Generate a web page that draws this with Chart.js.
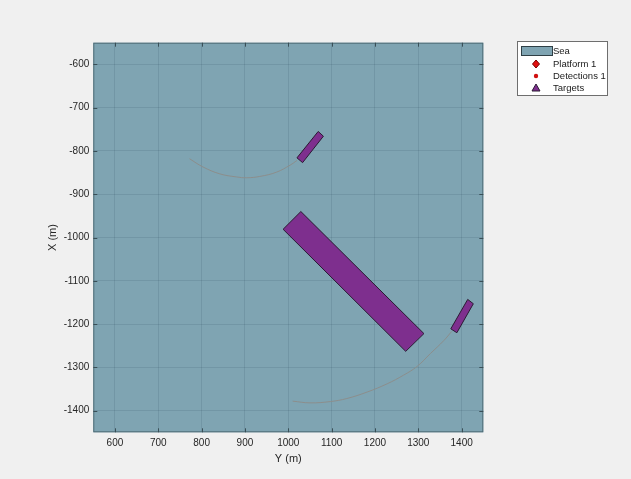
<!DOCTYPE html>
<html>
<head>
<meta charset="utf-8">
<script src="https://cdn.jsdelivr.net/npm/chart.js@4.4.1/dist/chart.umd.min.js"></script>
<style>
  html, body { margin: 0; padding: 0; background: #f0f0f0; }
  #wrap { width: 631px; height: 479px; }
</style>
</head>
<body>
<div id="wrap"><canvas id="theater"></canvas></div>
<script>
// horizontal axis is Y (m), vertical axis is X (m)
const yTicks = [600, 700, 800, 900, 1000, 1100, 1200, 1300, 1400];
const xTicks = [-1400, -1300, -1200, -1100, -1000, -900, -800, -700, -600];

const seaY = [550, 1450, 1450, 550];
const seaX = [-1450, -1450, -550, -550];

// target footprints (corners)
const target1Y = [1020, 1033, 1081, 1069, 1020];
const target1X = [-816, -827, -766, -755, -816];
const target2Y = [1029, 988, 1271, 1313, 1029];
const target2X = [-940, -981, -1263, -1222, -940];
const target3Y = [1375, 1389, 1427, 1414, 1375];
const target3X = [-1211, -1220, -1153, -1143, -1211];

// target tracks
const track1Y = [772, 803, 842, 880, 904, 934, 973, 1004, 1020];
const track1X = [-818, -837, -853, -860, -862, -859, -849, -833, -822];
const track2Y = [1010, 1050, 1097, 1135, 1182, 1228, 1266, 1297, 1328, 1359, 1377];
const track2X = [-1378, -1382, -1379, -1372, -1357, -1338, -1318, -1298, -1268, -1238, -1217];

const legendLabels = ['Sea', 'Platform 1', 'Detections 1', 'Targets'];

const seaColor = 'rgb(127,164,178)';
const targetColor = '#7e2f8e';
const gridColor = 'rgba(30,60,75,0.13)';
const font = 'Liberation Sans, Arial, sans-serif';

function pts(ys, xs) {
    return ys.map((v, i) => ({ x: v, y: xs[i] }));
}

function polygon(ys, xs) {
    return {
        label: 'Targets',
        data: pts(ys, xs),
        showLine: true,
        fill: 'shape',
        backgroundColor: targetColor,
        borderColor: '#2b1b33',
        borderWidth: 1,
        pointRadius: 0,
        tension: 0
    };
}

function track(ys, xs) {
    return {
        label: 'track',
        data: pts(ys, xs),
        showLine: true,
        fill: false,
        borderColor: 'rgb(140,142,140)',
        borderWidth: 1,
        pointRadius: 0,
        tension: 0.4
    };
}

const seaPlugin = {
    id: 'sea',
    beforeDraw(chart) {
        const { ctx, scales: { x, y } } = chart;
        ctx.save();
        ctx.fillStyle = seaColor;
        ctx.beginPath();
        seaY.forEach((v, i) => {
            const px = x.getPixelForValue(v), py = y.getPixelForValue(seaX[i]);
            if (i === 0) ctx.moveTo(px, py); else ctx.lineTo(px, py);
        });
        ctx.closePath();
        ctx.fill();
        ctx.restore();
    },
    afterDraw(chart) {
        const { ctx, chartArea: a, scales: { x, y } } = chart;
        ctx.save();
        ctx.strokeStyle = '#4d6b75';
        ctx.lineWidth = 1;
        ctx.strokeRect(a.left + 0.5, a.top + 0.5, a.right - a.left - 1, a.bottom - a.top - 1);
        // inward tick marks
        ctx.strokeStyle = '#3a4f57';
        ctx.beginPath();
        yTicks.forEach(v => {
            const px = Math.round(x.getPixelForValue(v)) + 0.5;
            ctx.moveTo(px, a.bottom); ctx.lineTo(px, a.bottom - 4);
            ctx.moveTo(px, a.top); ctx.lineTo(px, a.top + 4);
        });
        xTicks.forEach(v => {
            const py = Math.round(y.getPixelForValue(v)) + 0.5;
            ctx.moveTo(a.left, py); ctx.lineTo(a.left + 4, py);
            ctx.moveTo(a.right, py); ctx.lineTo(a.right - 4, py);
        });
        ctx.stroke();
        ctx.restore();
    }
};

const legendPlugin = {
    id: 'theaterLegend',
    afterDraw(chart) {
        const ctx = chart.ctx;
        const left = 517, top = 41, w = 90, h = 54;
        const rows = [51, 64, 76, 88];
        const mx = 536;
        ctx.save();
        ctx.fillStyle = '#ffffff';
        ctx.fillRect(left, top, w, h);
        ctx.strokeStyle = '#6e6e6e';
        ctx.lineWidth = 1;
        ctx.strokeRect(left + 0.5, top + 0.5, w, h);

        // Sea patch
        ctx.fillStyle = seaColor;
        ctx.fillRect(521, rows[0] - 4.5, 31, 9);
        ctx.strokeStyle = '#2f3f45';
        ctx.strokeRect(521.5, rows[0] - 4.5, 31, 9);

        // Platform diamond
        ctx.fillStyle = '#e01010';
        ctx.strokeStyle = '#7a0000';
        ctx.beginPath();
        ctx.moveTo(mx, rows[1] - 4);
        ctx.lineTo(mx + 3.5, rows[1]);
        ctx.lineTo(mx, rows[1] + 4);
        ctx.lineTo(mx - 3.5, rows[1]);
        ctx.closePath();
        ctx.fill();
        ctx.stroke();

        // Detection dot
        ctx.fillStyle = '#d01010';
        ctx.beginPath();
        ctx.arc(mx, rows[2], 2.2, 0, Math.PI * 2);
        ctx.fill();

        // Targets triangle
        ctx.fillStyle = targetColor;
        ctx.strokeStyle = '#2b1b33';
        ctx.beginPath();
        ctx.moveTo(mx, rows[3] - 4);
        ctx.lineTo(mx + 4, rows[3] + 3);
        ctx.lineTo(mx - 4, rows[3] + 3);
        ctx.closePath();
        ctx.fill();
        ctx.stroke();

        ctx.fillStyle = '#1a1a1a';
        ctx.font = '9.5px ' + font;
        ctx.textBaseline = 'middle';
        ctx.textAlign = 'left';
        legendLabels.forEach((t, i) => ctx.fillText(t, 553, rows[i] + 0.5));
        ctx.restore();
    }
};

new Chart(document.getElementById('theater'), {
    type: 'scatter',
    data: {
        datasets: [
            track(track1Y, track1X),
            track(track2Y, track2X),
            polygon(target1Y, target1X),
            polygon(target2Y, target2X),
            polygon(target3Y, target3X),
            { label: 'Platform 1', data: [], pointStyle: 'rectRot', backgroundColor: '#e01010' },
            { label: 'Detections 1', data: [], pointStyle: 'circle', backgroundColor: '#d01010' }
        ]
    },
    options: {
        responsive: true,
        maintainAspectRatio: false,
        animation: false,
        layout: { padding: { left: 46.7, right: 147.7, top: 42.7, bottom: 13.7 } },
        plugins: {
            legend: { display: false },
            tooltip: { enabled: false }
        },
        scales: {
            x: {
                type: 'linear',
                min: 550,
                max: 1450,
                afterBuildTicks: s => { s.ticks = yTicks.map(v => ({ value: v })); },
                afterFit: s => { s.height = 33; },
                grid: { color: gridColor, drawTicks: false },
                border: { display: false },
                ticks: { color: '#262626', padding: 5, font: { family: font, size: 10 }, callback: v => String(v) },
                title: { display: true, text: 'Y (m)', color: '#262626', padding: 0, font: { family: font, size: 11 } }
            },
            y: {
                type: 'linear',
                min: -1450,
                max: -550,
                afterBuildTicks: s => { s.ticks = xTicks.map(v => ({ value: v })); },
                afterFit: s => { s.width = 46.6; },
                grid: { color: gridColor, drawTicks: false },
                border: { display: false },
                ticks: { color: '#262626', padding: 4, font: { family: font, size: 10 }, callback: v => String(v) },
                title: { display: true, text: 'X (m)', color: '#262626', padding: 0, font: { family: font, size: 11 } }
            }
        }
    },
    plugins: [seaPlugin, legendPlugin]
});
</script>
</body>
</html>
